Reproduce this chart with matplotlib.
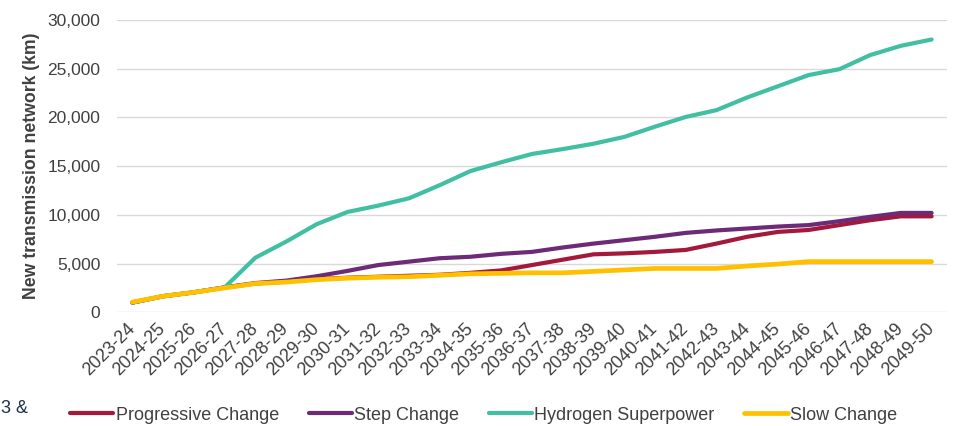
import matplotlib
matplotlib.use("Agg")
import matplotlib.pyplot as plt
from matplotlib.ticker import FuncFormatter, MultipleLocator

categories = ["2023-24", "2024-25", "2025-26", "2026-27", "2027-28", "2028-29", "2029-30",
              "2030-31", "2031-32", "2032-33", "2033-34", "2034-35", "2035-36", "2036-37",
              "2037-38", "2038-39", "2039-40", "2040-41", "2041-42", "2042-43", "2043-44",
              "2044-45", "2045-46", "2046-47", "2047-48", "2048-49", "2049-50"]

progressive = [1000, 1650, 2050, 2550, 2950, 3150, 3400, 3550, 3650, 3750, 3850, 4050, 4300,
               4850, 5400, 5950, 6050, 6200, 6400, 7050, 7750, 8250, 8450, 8950, 9450, 9850, 9850]
step = [1000, 1650, 2050, 2550, 3000, 3250, 3700, 4250, 4850, 5200, 5550, 5700, 6000,
        6200, 6650, 7050, 7400, 7750, 8150, 8400, 8600, 8800, 8950, 9350, 9800, 10200, 10200]
hydrogen = [1000, 1650, 2050, 2550, 5600, 7250, 9050, 10300, 10950, 11700, 13050, 14500, 15400,
            16250, 16750, 17300, 18000, 19050, 20050, 20750, 22050, 23200, 24350, 24950, 26400,
            27350, 28000]
slow = [1050, 1650, 2050, 2500, 2950, 3100, 3350, 3500, 3600, 3650, 3800, 3950, 4000,
        4050, 4050, 4200, 4350, 4500, 4500, 4500, 4750, 4950, 5200, 5200, 5200, 5200, 5200]

series_names = ["Progressive Change", "Step Change", "Hydrogen Superpower", "Slow Change"]
series_values = [progressive, step, hydrogen, slow]
colors = ["#A3183B", "#6C2A77", "#41BFA3", "#FFC000"]
widths = [3.0, 3.0, 3.0, 3.4]

plt.rcParams['font.family'] = ['Liberation Sans', 'DejaVu Sans']

W, H = 956, 426
fig = plt.figure(figsize=(W / 100, H / 100), dpi=100)
ax = fig.add_axes([117 / W, 1 - 312.3 / H, (947 - 117) / W, (312.3 - 20) / H])

x = list(range(len(categories)))
handles = []
for name, vals, c, lw in zip(series_names, series_values, colors, widths):
    h, = ax.plot(x, vals, color=c, lw=lw, label=name, solid_capstyle='round',
                 solid_joinstyle='round')
    handles.append(h)

ax.set_xlim(-0.5, len(categories) - 0.5)
ax.set_ylim(0, 30000)
ax.yaxis.set_major_locator(MultipleLocator(5000))
ax.yaxis.set_major_formatter(FuncFormatter(lambda v, p: f"{int(v):,}"))
ax.grid(axis='y', color='#d9d9d9', lw=1.0)
ax.set_axisbelow(True)
for s in ax.spines.values():
    s.set_visible(False)

ax.set_xticks(x)
ax.set_xticklabels(categories, rotation=45, ha='right', va='center', rotation_mode='anchor')
ax.tick_params(axis='x', length=0, pad=10, labelsize=13, labelcolor='#404040')
ax.tick_params(axis='y', length=0, pad=12, labelsize=12.5, labelcolor='#404040')

fig.text(31.5 / W, 1 - 166 / H, "New transmission network (km)", rotation=90,
         ha='center', va='center', fontsize=12.7, fontweight='bold', color='#404040')

fig.text(1 / W, 1 - 413 / H, "3 &", ha='left', va='baseline', fontsize=13, color='#1F2F4F')

fig.legend(handles=handles, loc='center', bbox_to_anchor=(483.5 / W, 1 - 415 / H),
           ncol=4, frameon=False, fontsize=13, handlelength=2.4, handletextpad=0.12,
           columnspacing=1.65, labelcolor='#404040', borderpad=0, borderaxespad=0)

fig.savefig("out.png", dpi=100)
